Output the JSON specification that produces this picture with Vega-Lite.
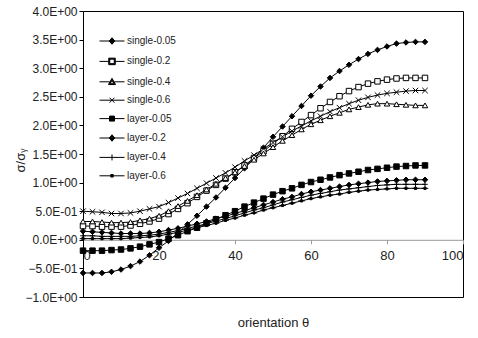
{
  "$schema": "https://vega.github.io/schema/vega-lite/v6.json",
  "width": 380,
  "height": 286,
  "autosize": "none",
  "padding": {"left": 83, "top": 11, "right": 15, "bottom": 41},
  "config": {
    "font": "Liberation Sans",
    "view": {"stroke": "black", "strokeWidth": 1},
    "axis": {"grid": false}
  },
  "data": {"values": [
    {"series":"single-0.05","theta":0,"value":-0.58},{"series":"single-0.05","theta":2.5,"value":-0.58},{"series":"single-0.05","theta":5,"value":-0.58},{"series":"single-0.05","theta":7.5,"value":-0.56},{"series":"single-0.05","theta":10,"value":-0.52},{"series":"single-0.05","theta":12.5,"value":-0.46},{"series":"single-0.05","theta":15,"value":-0.38},{"series":"single-0.05","theta":17.5,"value":-0.27},{"series":"single-0.05","theta":20,"value":-0.14},{"series":"single-0.05","theta":22.5,"value":-0.02},{"series":"single-0.05","theta":25,"value":0.12},{"series":"single-0.05","theta":27.5,"value":0.27},{"series":"single-0.05","theta":30,"value":0.42},{"series":"single-0.05","theta":32.5,"value":0.58},{"series":"single-0.05","theta":35,"value":0.74},{"series":"single-0.05","theta":37.5,"value":0.91},{"series":"single-0.05","theta":40,"value":1.08},{"series":"single-0.05","theta":42.5,"value":1.25},{"series":"single-0.05","theta":45,"value":1.42},{"series":"single-0.05","theta":47.5,"value":1.61},{"series":"single-0.05","theta":50,"value":1.8},{"series":"single-0.05","theta":52.5,"value":1.98},{"series":"single-0.05","theta":55,"value":2.16},{"series":"single-0.05","theta":57.5,"value":2.34},{"series":"single-0.05","theta":60,"value":2.52},{"series":"single-0.05","theta":62.5,"value":2.68},{"series":"single-0.05","theta":65,"value":2.83},{"series":"single-0.05","theta":67.5,"value":2.95},{"series":"single-0.05","theta":70,"value":3.06},{"series":"single-0.05","theta":72.5,"value":3.16},{"series":"single-0.05","theta":75,"value":3.25},{"series":"single-0.05","theta":77.5,"value":3.32},{"series":"single-0.05","theta":80,"value":3.38},{"series":"single-0.05","theta":82.5,"value":3.43},{"series":"single-0.05","theta":85,"value":3.45},{"series":"single-0.05","theta":87.5,"value":3.46},{"series":"single-0.05","theta":90,"value":3.46},
    {"series":"single-0.2","theta":0,"value":0.24},{"series":"single-0.2","theta":2.5,"value":0.24},{"series":"single-0.2","theta":5,"value":0.23},{"series":"single-0.2","theta":7.5,"value":0.23},{"series":"single-0.2","theta":10,"value":0.23},{"series":"single-0.2","theta":12.5,"value":0.25},{"series":"single-0.2","theta":15,"value":0.28},{"series":"single-0.2","theta":17.5,"value":0.32},{"series":"single-0.2","theta":20,"value":0.37},{"series":"single-0.2","theta":22.5,"value":0.45},{"series":"single-0.2","theta":25,"value":0.54},{"series":"single-0.2","theta":27.5,"value":0.64},{"series":"single-0.2","theta":30,"value":0.75},{"series":"single-0.2","theta":32.5,"value":0.86},{"series":"single-0.2","theta":35,"value":0.96},{"series":"single-0.2","theta":37.5,"value":1.07},{"series":"single-0.2","theta":40,"value":1.18},{"series":"single-0.2","theta":42.5,"value":1.3},{"series":"single-0.2","theta":45,"value":1.43},{"series":"single-0.2","theta":47.5,"value":1.55},{"series":"single-0.2","theta":50,"value":1.68},{"series":"single-0.2","theta":52.5,"value":1.81},{"series":"single-0.2","theta":55,"value":1.94},{"series":"single-0.2","theta":57.5,"value":2.06},{"series":"single-0.2","theta":60,"value":2.18},{"series":"single-0.2","theta":62.5,"value":2.3},{"series":"single-0.2","theta":65,"value":2.41},{"series":"single-0.2","theta":67.5,"value":2.51},{"series":"single-0.2","theta":70,"value":2.6},{"series":"single-0.2","theta":72.5,"value":2.67},{"series":"single-0.2","theta":75,"value":2.73},{"series":"single-0.2","theta":77.5,"value":2.77},{"series":"single-0.2","theta":80,"value":2.8},{"series":"single-0.2","theta":82.5,"value":2.82},{"series":"single-0.2","theta":85,"value":2.83},{"series":"single-0.2","theta":87.5,"value":2.83},{"series":"single-0.2","theta":90,"value":2.83},
    {"series":"single-0.4","theta":0,"value":0.32},{"series":"single-0.4","theta":2.5,"value":0.32},{"series":"single-0.4","theta":5,"value":0.31},{"series":"single-0.4","theta":7.5,"value":0.3},{"series":"single-0.4","theta":10,"value":0.3},{"series":"single-0.4","theta":12.5,"value":0.31},{"series":"single-0.4","theta":15,"value":0.34},{"series":"single-0.4","theta":17.5,"value":0.37},{"series":"single-0.4","theta":20,"value":0.42},{"series":"single-0.4","theta":22.5,"value":0.5},{"series":"single-0.4","theta":25,"value":0.59},{"series":"single-0.4","theta":27.5,"value":0.68},{"series":"single-0.4","theta":30,"value":0.78},{"series":"single-0.4","theta":32.5,"value":0.88},{"series":"single-0.4","theta":35,"value":0.98},{"series":"single-0.4","theta":37.5,"value":1.08},{"series":"single-0.4","theta":40,"value":1.18},{"series":"single-0.4","theta":42.5,"value":1.29},{"series":"single-0.4","theta":45,"value":1.4},{"series":"single-0.4","theta":47.5,"value":1.51},{"series":"single-0.4","theta":50,"value":1.62},{"series":"single-0.4","theta":52.5,"value":1.73},{"series":"single-0.4","theta":55,"value":1.83},{"series":"single-0.4","theta":57.5,"value":1.93},{"series":"single-0.4","theta":60,"value":2.02},{"series":"single-0.4","theta":62.5,"value":2.09},{"series":"single-0.4","theta":65,"value":2.16},{"series":"single-0.4","theta":67.5,"value":2.22},{"series":"single-0.4","theta":70,"value":2.28},{"series":"single-0.4","theta":72.5,"value":2.32},{"series":"single-0.4","theta":75,"value":2.36},{"series":"single-0.4","theta":77.5,"value":2.38},{"series":"single-0.4","theta":80,"value":2.38},{"series":"single-0.4","theta":82.5,"value":2.37},{"series":"single-0.4","theta":85,"value":2.36},{"series":"single-0.4","theta":87.5,"value":2.35},{"series":"single-0.4","theta":90,"value":2.35},
    {"series":"single-0.6","theta":0,"value":0.5},{"series":"single-0.6","theta":2.5,"value":0.49},{"series":"single-0.6","theta":5,"value":0.48},{"series":"single-0.6","theta":7.5,"value":0.46},{"series":"single-0.6","theta":10,"value":0.46},{"series":"single-0.6","theta":12.5,"value":0.47},{"series":"single-0.6","theta":15,"value":0.5},{"series":"single-0.6","theta":17.5,"value":0.54},{"series":"single-0.6","theta":20,"value":0.58},{"series":"single-0.6","theta":22.5,"value":0.65},{"series":"single-0.6","theta":25,"value":0.73},{"series":"single-0.6","theta":27.5,"value":0.81},{"series":"single-0.6","theta":30,"value":0.9},{"series":"single-0.6","theta":32.5,"value":0.99},{"series":"single-0.6","theta":35,"value":1.08},{"series":"single-0.6","theta":37.5,"value":1.17},{"series":"single-0.6","theta":40,"value":1.27},{"series":"single-0.6","theta":42.5,"value":1.38},{"series":"single-0.6","theta":45,"value":1.48},{"series":"single-0.6","theta":47.5,"value":1.59},{"series":"single-0.6","theta":50,"value":1.7},{"series":"single-0.6","theta":52.5,"value":1.8},{"series":"single-0.6","theta":55,"value":1.9},{"series":"single-0.6","theta":57.5,"value":1.99},{"series":"single-0.6","theta":60,"value":2.08},{"series":"single-0.6","theta":62.5,"value":2.16},{"series":"single-0.6","theta":65,"value":2.24},{"series":"single-0.6","theta":67.5,"value":2.31},{"series":"single-0.6","theta":70,"value":2.38},{"series":"single-0.6","theta":72.5,"value":2.44},{"series":"single-0.6","theta":75,"value":2.49},{"series":"single-0.6","theta":77.5,"value":2.53},{"series":"single-0.6","theta":80,"value":2.56},{"series":"single-0.6","theta":82.5,"value":2.58},{"series":"single-0.6","theta":85,"value":2.6},{"series":"single-0.6","theta":87.5,"value":2.61},{"series":"single-0.6","theta":90,"value":2.61},
    {"series":"layer-0.05","theta":0,"value":-0.19},{"series":"layer-0.05","theta":2.5,"value":-0.19},{"series":"layer-0.05","theta":5,"value":-0.19},{"series":"layer-0.05","theta":7.5,"value":-0.18},{"series":"layer-0.05","theta":10,"value":-0.17},{"series":"layer-0.05","theta":12.5,"value":-0.15},{"series":"layer-0.05","theta":15,"value":-0.12},{"series":"layer-0.05","theta":17.5,"value":-0.08},{"series":"layer-0.05","theta":20,"value":-0.04},{"series":"layer-0.05","theta":22.5,"value":0.02},{"series":"layer-0.05","theta":25,"value":0.08},{"series":"layer-0.05","theta":27.5,"value":0.15},{"series":"layer-0.05","theta":30,"value":0.21},{"series":"layer-0.05","theta":32.5,"value":0.29},{"series":"layer-0.05","theta":35,"value":0.36},{"series":"layer-0.05","theta":37.5,"value":0.43},{"series":"layer-0.05","theta":40,"value":0.5},{"series":"layer-0.05","theta":42.5,"value":0.58},{"series":"layer-0.05","theta":45,"value":0.65},{"series":"layer-0.05","theta":47.5,"value":0.72},{"series":"layer-0.05","theta":50,"value":0.79},{"series":"layer-0.05","theta":52.5,"value":0.85},{"series":"layer-0.05","theta":55,"value":0.9},{"series":"layer-0.05","theta":57.5,"value":0.96},{"series":"layer-0.05","theta":60,"value":1.01},{"series":"layer-0.05","theta":62.5,"value":1.05},{"series":"layer-0.05","theta":65,"value":1.09},{"series":"layer-0.05","theta":67.5,"value":1.13},{"series":"layer-0.05","theta":70,"value":1.16},{"series":"layer-0.05","theta":72.5,"value":1.19},{"series":"layer-0.05","theta":75,"value":1.22},{"series":"layer-0.05","theta":77.5,"value":1.24},{"series":"layer-0.05","theta":80,"value":1.26},{"series":"layer-0.05","theta":82.5,"value":1.28},{"series":"layer-0.05","theta":85,"value":1.29},{"series":"layer-0.05","theta":87.5,"value":1.3},{"series":"layer-0.05","theta":90,"value":1.3},
    {"series":"layer-0.2","theta":0,"value":0.15},{"series":"layer-0.2","theta":2.5,"value":0.14},{"series":"layer-0.2","theta":5,"value":0.13},{"series":"layer-0.2","theta":7.5,"value":0.12},{"series":"layer-0.2","theta":10,"value":0.11},{"series":"layer-0.2","theta":12.5,"value":0.11},{"series":"layer-0.2","theta":15,"value":0.11},{"series":"layer-0.2","theta":17.5,"value":0.12},{"series":"layer-0.2","theta":20,"value":0.14},{"series":"layer-0.2","theta":22.5,"value":0.17},{"series":"layer-0.2","theta":25,"value":0.2},{"series":"layer-0.2","theta":27.5,"value":0.24},{"series":"layer-0.2","theta":30,"value":0.28},{"series":"layer-0.2","theta":32.5,"value":0.32},{"series":"layer-0.2","theta":35,"value":0.37},{"series":"layer-0.2","theta":37.5,"value":0.41},{"series":"layer-0.2","theta":40,"value":0.46},{"series":"layer-0.2","theta":42.5,"value":0.51},{"series":"layer-0.2","theta":45,"value":0.56},{"series":"layer-0.2","theta":47.5,"value":0.61},{"series":"layer-0.2","theta":50,"value":0.66},{"series":"layer-0.2","theta":52.5,"value":0.71},{"series":"layer-0.2","theta":55,"value":0.75},{"series":"layer-0.2","theta":57.5,"value":0.8},{"series":"layer-0.2","theta":60,"value":0.84},{"series":"layer-0.2","theta":62.5,"value":0.87},{"series":"layer-0.2","theta":65,"value":0.9},{"series":"layer-0.2","theta":67.5,"value":0.93},{"series":"layer-0.2","theta":70,"value":0.96},{"series":"layer-0.2","theta":72.5,"value":0.98},{"series":"layer-0.2","theta":75,"value":1.0},{"series":"layer-0.2","theta":77.5,"value":1.02},{"series":"layer-0.2","theta":80,"value":1.03},{"series":"layer-0.2","theta":82.5,"value":1.04},{"series":"layer-0.2","theta":85,"value":1.05},{"series":"layer-0.2","theta":87.5,"value":1.05},{"series":"layer-0.2","theta":90,"value":1.05},
    {"series":"layer-0.4","theta":0,"value":0.07},{"series":"layer-0.4","theta":2.5,"value":0.07},{"series":"layer-0.4","theta":5,"value":0.06},{"series":"layer-0.4","theta":7.5,"value":0.06},{"series":"layer-0.4","theta":10,"value":0.06},{"series":"layer-0.4","theta":12.5,"value":0.06},{"series":"layer-0.4","theta":15,"value":0.07},{"series":"layer-0.4","theta":17.5,"value":0.08},{"series":"layer-0.4","theta":20,"value":0.1},{"series":"layer-0.4","theta":22.5,"value":0.13},{"series":"layer-0.4","theta":25,"value":0.16},{"series":"layer-0.4","theta":27.5,"value":0.2},{"series":"layer-0.4","theta":30,"value":0.24},{"series":"layer-0.4","theta":32.5,"value":0.28},{"series":"layer-0.4","theta":35,"value":0.33},{"series":"layer-0.4","theta":37.5,"value":0.37},{"series":"layer-0.4","theta":40,"value":0.42},{"series":"layer-0.4","theta":42.5,"value":0.47},{"series":"layer-0.4","theta":45,"value":0.52},{"series":"layer-0.4","theta":47.5,"value":0.56},{"series":"layer-0.4","theta":50,"value":0.61},{"series":"layer-0.4","theta":52.5,"value":0.66},{"series":"layer-0.4","theta":55,"value":0.7},{"series":"layer-0.4","theta":57.5,"value":0.74},{"series":"layer-0.4","theta":60,"value":0.78},{"series":"layer-0.4","theta":62.5,"value":0.81},{"series":"layer-0.4","theta":65,"value":0.84},{"series":"layer-0.4","theta":67.5,"value":0.87},{"series":"layer-0.4","theta":70,"value":0.89},{"series":"layer-0.4","theta":72.5,"value":0.91},{"series":"layer-0.4","theta":75,"value":0.93},{"series":"layer-0.4","theta":77.5,"value":0.95},{"series":"layer-0.4","theta":80,"value":0.96},{"series":"layer-0.4","theta":82.5,"value":0.97},{"series":"layer-0.4","theta":85,"value":0.97},{"series":"layer-0.4","theta":87.5,"value":0.97},{"series":"layer-0.4","theta":90,"value":0.97},
    {"series":"layer-0.6","theta":0,"value":0.02},{"series":"layer-0.6","theta":2.5,"value":0.02},{"series":"layer-0.6","theta":5,"value":0.02},{"series":"layer-0.6","theta":7.5,"value":0.02},{"series":"layer-0.6","theta":10,"value":0.02},{"series":"layer-0.6","theta":12.5,"value":0.03},{"series":"layer-0.6","theta":15,"value":0.04},{"series":"layer-0.6","theta":17.5,"value":0.05},{"series":"layer-0.6","theta":20,"value":0.07},{"series":"layer-0.6","theta":22.5,"value":0.1},{"series":"layer-0.6","theta":25,"value":0.13},{"series":"layer-0.6","theta":27.5,"value":0.17},{"series":"layer-0.6","theta":30,"value":0.21},{"series":"layer-0.6","theta":32.5,"value":0.25},{"series":"layer-0.6","theta":35,"value":0.29},{"series":"layer-0.6","theta":37.5,"value":0.34},{"series":"layer-0.6","theta":40,"value":0.38},{"series":"layer-0.6","theta":42.5,"value":0.43},{"series":"layer-0.6","theta":45,"value":0.47},{"series":"layer-0.6","theta":47.5,"value":0.52},{"series":"layer-0.6","theta":50,"value":0.56},{"series":"layer-0.6","theta":52.5,"value":0.6},{"series":"layer-0.6","theta":55,"value":0.64},{"series":"layer-0.6","theta":57.5,"value":0.68},{"series":"layer-0.6","theta":60,"value":0.72},{"series":"layer-0.6","theta":62.5,"value":0.75},{"series":"layer-0.6","theta":65,"value":0.78},{"series":"layer-0.6","theta":67.5,"value":0.8},{"series":"layer-0.6","theta":70,"value":0.83},{"series":"layer-0.6","theta":72.5,"value":0.85},{"series":"layer-0.6","theta":75,"value":0.87},{"series":"layer-0.6","theta":77.5,"value":0.88},{"series":"layer-0.6","theta":80,"value":0.89},{"series":"layer-0.6","theta":82.5,"value":0.9},{"series":"layer-0.6","theta":85,"value":0.9},{"series":"layer-0.6","theta":87.5,"value":0.9},{"series":"layer-0.6","theta":90,"value":0.9}
  ]},
  "encoding": {
    "x": {
      "field": "theta", "type": "quantitative",
      "scale": {"domain": [0, 100], "nice": false, "zero": false},
      "axis": {
        "values": [0, 20, 40, 60, 80, 100],
        "offset": -57.2,
        "domainColor": "#999999", "tickColor": "#999999", "tickSize": 4,
        "labelPadding": 6, "labelFontSize": 13, "labelColor": "#222222",
        "title": "orientation θ", "titleFontSize": 13, "titleFontWeight": "normal", "titleColor": "#222222",
        "titleX": 190, "titleY": 83, "titleBaseline": "middle", "titleAlign": "center"
      }
    },
    "y": {
      "field": "value", "type": "quantitative",
      "scale": {"domain": [-1, 4], "nice": false, "zero": false},
      "axis": {
        "values": [-1, -0.5, 0, 0.5, 1, 1.5, 2, 2.5, 3, 3.5, 4],
        "labelExpr": "datum.value == 0 ? '0.0E+00' : (abs(datum.value) >= 1 ? format(datum.value, '.1f') + 'E+00' : format(datum.value * 10, '.1f') + 'E-01')",
        "domainColor": "black", "tickColor": "black", "tickSize": 4,
        "labelPadding": 2, "labelFontSize": 12, "labelColor": "#222222",
        "title": "σ/σᵧ", "titleFontSize": 13, "titleFontWeight": "normal", "titleColor": "#222222",
        "titleX": -63, "titleY": 149, "titleBaseline": "middle", "titleAlign": "center", "titleAngle": -90
      }
    }
  },
  "layer": [
    {
      "mark": {"type": "line", "color": "black", "strokeWidth": 1},
      "encoding": {"detail": {"field": "series"}}
    },
    {
      "mark": {"type": "point", "filled": true, "stroke": "black", "strokeWidth": 1, "size": 30, "opacity": 1},
      "encoding": {
        "shape": {
          "field": "series", "type": "nominal", "legend": null,
          "scale": {
            "domain": ["single-0.05","single-0.2","single-0.4","single-0.6","layer-0.05","layer-0.2","layer-0.4","layer-0.6"],
            "range": ["diamond","square","triangle-up","M-1,-1L1,1M-1,1L1,-1","square","diamond","M-1,0H1M0,-1V1","M-1.2,0H1.2M-0.4,-0.4H0.4V0.4H-0.4Z"]
          }
        },
        "fill": {
          "field": "series", "type": "nominal", "legend": null,
          "scale": {
            "domain": ["single-0.05","single-0.2","single-0.4","single-0.6","layer-0.05","layer-0.2","layer-0.4","layer-0.6"],
            "range": ["black","white","white","black","black","black","black","black"]
          }
        }
      }
    },
    {
      "mark": {"type": "point", "filled": false, "fill": "black", "stroke": "black", "strokeWidth": 1, "opacity": 0, "size": 25},
      "encoding": {
        "shape": {
          "field": "series", "type": "nominal",
          "scale": {
            "domain": ["single-0.05","single-0.2","single-0.4","single-0.6","layer-0.05","layer-0.2","layer-0.4","layer-0.6"],
            "range": [
              "M-5,0H5M0,-1.3L1.1,0L0,1.3L-1.1,0Z",
              "M-5,0H-1.3M1.3,0H5M-1.3,-1.3H1.3V1.3H-1.3ZM-0.9,-0.9V0.9H0.9V-0.9Z",
              "M-5,0H-0.9M0.9,0H5M0,-1.4L1.4,1.1H-1.4ZM0,-0.6L-0.75,0.75H0.75Z",
              "M-5,0H5M-1,-1L1,1M-1,1L1,-1",
              "M-5,0H5M-1,-1H1V1H-1Z",
              "M-5,0H5M0,-1.3L1.1,0L0,1.3L-1.1,0Z",
              "M-5,0H5M0,-1.2V1.2",
              "M-5,0H5M-0.5,-0.5H0.5V0.5H-0.5Z"
            ]
          },
          "legend": {
            "title": null, "orient": "none", "legendX": 24, "legendY": 25, "padding": 0,
            "symbolSize": 25, "symbolOpacity": 1, "symbolStrokeWidth": 1,
            "labelFontSize": 10, "labelColor": "#222222", "labelOffset": 10, "rowPadding": 8.4, "labelLimit": 200,
            "encode": {"symbols": {"update": {"stroke": {"value": "black"}, "strokeWidth": {"value": 0.8}, "fill": {"value": "black"}, "opacity": {"value": 1}, "strokeOpacity": {"value": 1}, "fillOpacity": {"value": 1}}}}
          }
        }
      }
    }
  ],
  "resolve": {"scale": {"shape": "independent"}, "legend": {"shape": "independent"}}
}
